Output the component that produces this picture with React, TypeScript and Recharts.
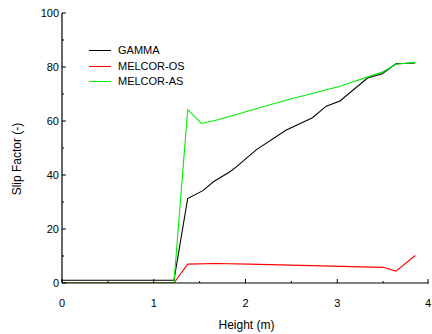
import React from 'react';
import { LineChart, Line, XAxis, YAxis } from 'recharts';

const gammaX = [0, 1.22, 1.37, 1.54, 1.65, 1.83, 1.9, 2.12, 2.44, 2.73, 2.88, 3.03, 3.33, 3.49, 3.64, 3.85];
const gammaY = [1, 1, 31.3, 34.3, 37.5, 41.2, 43, 49.4, 56.6, 61.2, 65.5, 67.4, 75.9, 77.5, 81.2, 81.5];

const osX = [0, 1.22, 1.37, 1.68, 2.04, 3.5, 3.64, 3.85];
const osY = [0, 0, 7.0, 7.2, 7.0, 5.8, 4.4, 10.2];

const asX = [0, 1.22, 1.37, 1.52, 1.68, 2.44, 3.03, 3.49, 3.64, 3.85];
const asY = [0, 0, 64.2, 59.1, 60.3, 67.7, 72.9, 78.1, 81.0, 81.7];

const xTicks = [0, 0.5, 1, 1.5, 2, 2.5, 3, 3.5, 4];
const yTicks = [0, 10, 20, 30, 40, 50, 60, 70, 80, 90, 100];

const seriesNames = ['GAMMA', 'MELCOR-OS', 'MELCOR-AS'];
const seriesColors = ['#000000', '#ff0000', '#00ee00'];

const toPoints = (xs: number[], ys: number[]) => xs.map((x, i) => ({ x, y: ys[i] }));

const gammaData = toPoints(gammaX, gammaY);
const osData = toPoints(osX, osY);
const asData = toPoints(asX, asY);

const FONT = 'Liberation Sans, Arial, sans-serif';

const isMajor = (v: number, step: number) => Math.abs(v / step - Math.round(v / step)) < 1e-6;

const BottomTick = (props: any) => {
  const { x, y, payload } = props;
  const major = isMajor(payload.value, 1);
  return (
    <g>
      <line x1={x} y1={y} x2={x} y2={y - (major ? 4 : 2)} stroke="#000" strokeWidth={1} />
      {major && (
        <text x={x} y={y + 24} textAnchor="middle" fontSize={11} fontFamily={FONT} fill="#000">
          {payload.value}
        </text>
      )}
    </g>
  );
};

const TopTick = (props: any) => {
  const { x, y, payload } = props;
  const major = isMajor(payload.value, 1);
  return <line x1={x} y1={y} x2={x} y2={y + (major ? 4 : 2)} stroke="#000" strokeWidth={1} />;
};

const LeftTick = (props: any) => {
  const { x, y, payload } = props;
  const major = isMajor(payload.value, 20);
  return (
    <g>
      <line x1={x} y1={y} x2={x + (major ? 4 : 2)} y2={y} stroke="#000" strokeWidth={1} />
      {major && (
        <text x={x - 3} y={y + 4} textAnchor="end" fontSize={11} fontFamily={FONT} fill="#000">
          {payload.value}
        </text>
      )}
    </g>
  );
};

const RightTick = (props: any) => {
  const { x, y, payload } = props;
  const major = isMajor(payload.value, 20);
  return <line x1={x} y1={y} x2={x - (major ? 4 : 2)} y2={y} stroke="#000" strokeWidth={1} />;
};

const LegendBox = () => (
  <div style={{ position: 'absolute', left: 89, top: 43, fontFamily: FONT, fontSize: 11, color: '#000', lineHeight: '15.5px' }}>
    {seriesNames.map((n, i) => (
      <div key={n} style={{ display: 'flex', alignItems: 'center', height: 15.5 }}>
        <div style={{ width: 22, height: 0, borderTop: `1px solid ${seriesColors[i]}`, marginRight: 7 }} />
        <span>{n}</span>
      </div>
    ))}
  </div>
);

const XLabel = (props: any) => {
  const vb = props.viewBox || { x: 62, y: 283, width: 367, height: 51 };
  return (
    <text x={vb.x + vb.width / 2 + 1} y={vb.y + 46} textAnchor="middle" fontSize={12} fontFamily={FONT} fill="#000">
      Height (m)
    </text>
  );
};

const YLabel = (props: any) => {
  const vb = props.viewBox || { x: 0, y: 13, width: 62, height: 270 };
  const cx = 21;
  const cy = vb.y + vb.height / 2 + 11;
  return (
    <text x={cx} y={cy} textAnchor="middle" fontSize={12} fontFamily={FONT} fill="#000" transform={`rotate(-90 ${cx} ${cy})`}>
      Slip Factor (-)
    </text>
  );
};

export default function App() {
  return (
    <div style={{ position: 'absolute', left: 0, top: 0, width: 432, height: 334, background: '#fff' }}>
      <LineChart width={432} height={334} margin={{ top: 13, right: 3, bottom: 0, left: 0 }}>
        <XAxis
          xAxisId="b"
          dataKey="x"
          type="number"
          domain={[0, 4]}
          ticks={xTicks}
          allowDataOverflow
          height={51}
          tickSize={0}
          tickMargin={0}
          tick={<BottomTick />}
          axisLine={{ stroke: '#000', strokeWidth: 1.2 }}
          tickLine={false}
          label={<XLabel />}
        />
        <XAxis
          xAxisId="t"
          dataKey="x"
          type="number"
          orientation="top"
          domain={[0, 4]}
          ticks={xTicks}
          allowDataOverflow
          height={0}
          tickSize={0}
          tickMargin={0}
          tick={<TopTick />}
          axisLine={{ stroke: '#000', strokeWidth: 1.2 }}
          tickLine={false}
        />
        <YAxis
          yAxisId="l"
          type="number"
          domain={[0, 100]}
          ticks={yTicks}
          allowDataOverflow
          width={62}
          tickSize={0}
          tickMargin={0}
          tick={<LeftTick />}
          axisLine={{ stroke: '#000', strokeWidth: 1.2 }}
          tickLine={false}
          label={<YLabel />}
        />
        <YAxis
          yAxisId="r"
          type="number"
          orientation="right"
          domain={[0, 100]}
          ticks={yTicks}
          allowDataOverflow
          width={0}
          tickSize={0}
          tickMargin={0}
          tick={<RightTick />}
          axisLine={{ stroke: '#000', strokeWidth: 1.2 }}
          tickLine={false}
        />
        <Line xAxisId="b" yAxisId="l" data={gammaData} dataKey="y" name={seriesNames[0]} stroke={seriesColors[0]} strokeWidth={1.1} dot={false} isAnimationActive={false} />
        <Line xAxisId="b" yAxisId="l" data={osData} dataKey="y" name={seriesNames[1]} stroke={seriesColors[1]} strokeWidth={1.1} dot={false} isAnimationActive={false} />
        <Line xAxisId="b" yAxisId="l" data={asData} dataKey="y" name={seriesNames[2]} stroke={seriesColors[2]} strokeWidth={1.1} dot={false} isAnimationActive={false} />
      </LineChart>
      <LegendBox />
    </div>
  );
}
